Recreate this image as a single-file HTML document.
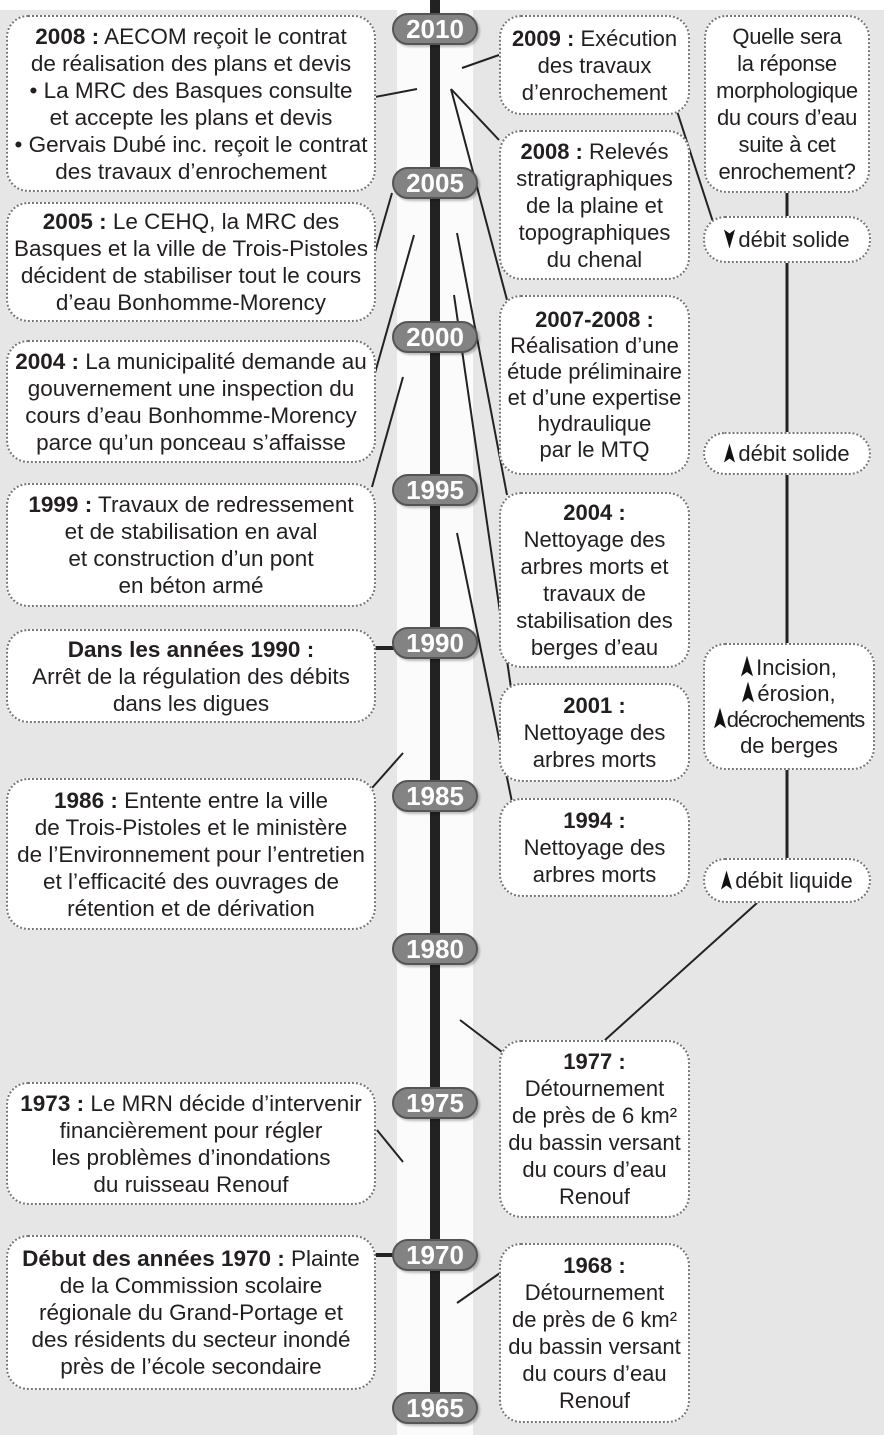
<!DOCTYPE html>
<html><head><meta charset="utf-8">
<style>
html,body{margin:0;padding:0;}
body{width:884px;height:1435px;position:relative;background:#fff;overflow:hidden;font-family:"Liberation Sans",Arial,sans-serif;color:#231f20;}
#bg{position:absolute;left:0;top:10px;width:884px;height:1425px;background:#e6e6e6;}
#band{position:absolute;left:397px;top:10px;width:76px;height:1425px;background:#fbfbfb;}
.box{position:absolute;background:#fff;border:2px dotted #777;border-radius:22px;box-sizing:border-box;display:flex;flex-direction:column;justify-content:center;align-items:center;text-align:center;font-size:22.5px;line-height:27px;white-space:nowrap;}
.box b{font-weight:bold;}
.m{font-size:22px;}
.r{font-size:22px;}
.pill{position:absolute;left:392px;width:86px;height:32px;border-radius:16px;background:#838383;border:2px solid #555;box-sizing:border-box;color:#fff;font-weight:bold;font-size:26px;line-height:28px;text-align:center;box-shadow:2px 2px 2px rgba(0,0,0,0.25);}
svg{position:absolute;left:0;top:0;}
.ar{display:inline-block;vertical-align:-2px;margin-right:3px;}
</style></head><body>
<div id="bg"></div>
<div id="band"></div>
<svg width="884" height="1435">
<line x1="435" y1="0" x2="435" y2="1400" stroke="#222" stroke-width="10"/>
<g stroke="#222" stroke-width="2" fill="none">
<line x1="375" y1="97" x2="417" y2="89"/>
<line x1="499" y1="55" x2="462" y2="68"/>
<line x1="451" y1="89" x2="499" y2="140"/>
<line x1="451" y1="89" x2="507" y2="300"/>
<line x1="392" y1="193" x2="375" y2="252"/>
<line x1="414" y1="235" x2="375" y2="373"/>
<line x1="403" y1="377" x2="372" y2="487"/>
<line x1="457" y1="233" x2="507" y2="495"/>
<line x1="454" y1="295" x2="511" y2="688"/>
<line x1="457" y1="533" x2="512" y2="802"/>
<line x1="403" y1="753" x2="372" y2="788"/>
<line x1="460" y1="1020" x2="502" y2="1052"/>
<line x1="377" y1="1130" x2="403" y2="1162"/>
<line x1="457" y1="1303" x2="500" y2="1273"/>
<line x1="676" y1="108" x2="713" y2="222"/>
<line x1="757" y1="903" x2="605" y2="1040"/>
</g>
<line x1="375" y1="648" x2="394" y2="648" stroke="#222" stroke-width="4"/>
<line x1="375" y1="1255" x2="394" y2="1255" stroke="#222" stroke-width="4"/>
<line x1="787" y1="190" x2="787" y2="860" stroke="#222" stroke-width="3"/>
</svg>

<div class="pill" style="top:13px">2010</div>
<div class="pill" style="top:167px">2005</div>
<div class="pill" style="top:321px">2000</div>
<div class="pill" style="top:474px">1995</div>
<div class="pill" style="top:627px">1990</div>
<div class="pill" style="top:780px">1985</div>
<div class="pill" style="top:933px">1980</div>
<div class="pill" style="top:1087px">1975</div>
<div class="pill" style="top:1239px">1970</div>
<div class="pill" style="top:1392px">1965</div>

<div class="box" style="left:6px;top:15px;width:370px;height:177px"><div><b>2008 :</b> AECOM reçoit le contrat</div><div>de réalisation des plans et devis</div><div>• La MRC des Basques consulte</div><div>et accepte les plans et devis</div><div>• Gervais Dubé inc. reçoit le contrat</div><div>des travaux d’enrochement</div></div>
<div class="box" style="left:6px;top:202px;width:370px;height:120px"><div><b>2005 :</b> Le CEHQ, la MRC des</div><div>Basques et la ville de Trois-Pistoles</div><div>décident de stabiliser tout le cours</div><div>d’eau Bonhomme-Morency</div></div>
<div class="box" style="left:6px;top:340px;width:370px;height:123px"><div><b>2004 :</b> La municipalité demande au</div><div>gouvernement une inspection du</div><div>cours d’eau Bonhomme-Morency</div><div>parce qu’un ponceau s’affaisse</div></div>
<div class="box" style="left:6px;top:483px;width:370px;height:124px"><div><b>1999 :</b> Travaux de redressement</div><div>et de stabilisation en aval</div><div>et construction d’un pont</div><div>en béton armé</div></div>
<div class="box" style="left:6px;top:629px;width:370px;height:94px"><div><b>Dans les années 1990 :</b></div><div>Arrêt de la régulation des débits</div><div>dans les digues</div></div>
<div class="box" style="left:6px;top:778px;width:370px;height:152px"><div><b>1986 :</b> Entente entre la ville</div><div>de Trois-Pistoles et le ministère</div><div>de l’Environnement pour l’entretien</div><div>et l’efficacité des ouvrages de</div><div>rétention et de dérivation</div></div>
<div class="box" style="left:6px;top:1082px;width:370px;height:123px"><div><b>1973 :</b> Le MRN décide d’intervenir</div><div>financièrement pour régler</div><div>les problèmes d’inondations</div><div>du ruisseau Renouf</div></div>
<div class="box" style="left:6px;top:1235px;width:370px;height:155px"><div><b>Début des années 1970 :</b> Plainte</div><div>de la Commission scolaire</div><div>régionale du Grand-Portage et</div><div>des résidents du secteur inondé</div><div>près de l’école secondaire</div></div>

<div class="box m" style="left:499px;top:15px;width:191px;height:100px"><div><b>2009 :</b> Exécution</div><div>des travaux</div><div>d’enrochement</div></div>
<div class="box m" style="left:499px;top:130px;width:191px;height:150px"><div><b>2008 :</b> Relevés</div><div>stratigraphiques</div><div>de la plaine et</div><div>topographiques</div><div>du chenal</div></div>
<div class="box m" style="left:499px;top:295px;width:191px;height:180px;line-height:26px"><div><b>2007-2008 :</b></div><div>Réalisation d’une</div><div>étude préliminaire</div><div>et d’une expertise</div><div>hydraulique</div><div>par le MTQ</div></div>
<div class="box m" style="left:499px;top:492px;width:191px;height:176px"><div><b>2004 :</b></div><div>Nettoyage des</div><div>arbres morts et</div><div>travaux de</div><div>stabilisation des</div><div>berges d’eau</div></div>
<div class="box m" style="left:499px;top:683px;width:191px;height:99px"><div><b>2001 :</b></div><div>Nettoyage des</div><div>arbres morts</div></div>
<div class="box m" style="left:499px;top:798px;width:191px;height:99px"><div><b>1994 :</b></div><div>Nettoyage des</div><div>arbres morts</div></div>
<div class="box m" style="left:499px;top:1040px;width:191px;height:178px"><div><b>1977 :</b></div><div>Détournement</div><div>de près de 6 km²</div><div>du bassin versant</div><div>du cours d’eau</div><div>Renouf</div></div>
<div class="box m" style="left:499px;top:1243px;width:191px;height:180px"><div><b>1968 :</b></div><div>Détournement</div><div>de près de 6 km²</div><div>du bassin versant</div><div>du cours d’eau</div><div>Renouf</div></div>

<div class="box r" style="left:704px;top:15px;width:166px;height:178px;letter-spacing:-0.3px"><div>Quelle sera</div><div>la réponse</div><div>morphologique</div><div>du cours d’eau</div><div>suite à cet</div><div>enrochement?</div></div>
<div class="box r" style="left:703px;top:216px;width:168px;height:47px"><div><svg class="ar" style="position:static" width="11" height="20" viewBox="0 0 11 19"><path d="M0,0 L5.5,4 L11,0 L5.5,19Z" fill="#111"/></svg>débit solide</div></div>
<div class="box r" style="left:703px;top:432px;width:168px;height:43px"><div><svg class="ar" style="position:static" width="11" height="20" viewBox="0 0 11 19"><path d="M0,19 L5.5,15 L11,19 L5.5,0Z" fill="#111"/></svg>débit solide</div></div>
<div class="box r" style="left:703px;top:643px;width:172px;height:127px;line-height:26px"><div><svg class="ar" style="position:static" width="12" height="22" viewBox="0 0 11 19"><path d="M0,19 L5.5,15 L11,19 L5.5,0Z" fill="#111"/></svg>Incision,</div><div><svg class="ar" style="position:static" width="12" height="22" viewBox="0 0 11 19"><path d="M0,19 L5.5,15 L11,19 L5.5,0Z" fill="#111"/></svg>érosion,</div><div style="letter-spacing:-1px"><svg class="ar" style="position:static;margin-right:1px" width="12" height="22" viewBox="0 0 11 19"><path d="M0,19 L5.5,15 L11,19 L5.5,0Z" fill="#111"/></svg>décrochements</div><div>de berges</div></div>
<div class="box r" style="left:703px;top:858px;width:168px;height:45px"><div><svg class="ar" style="position:static" width="11" height="20" viewBox="0 0 11 19"><path d="M0,19 L5.5,15 L11,19 L5.5,0Z" fill="#111"/></svg>débit liquide</div></div>
</body></html>
